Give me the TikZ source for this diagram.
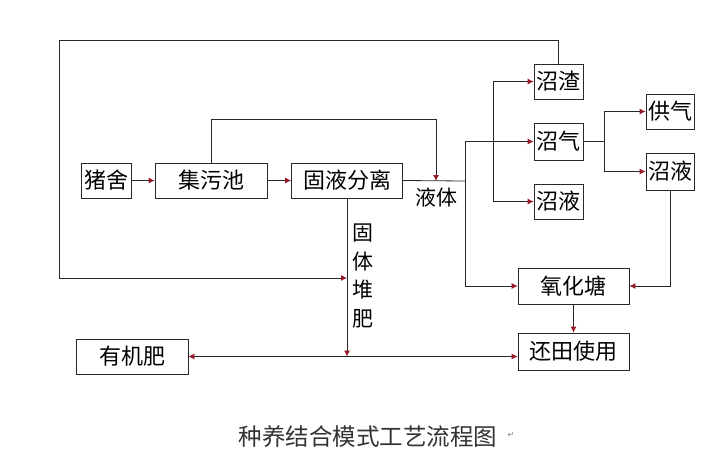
\documentclass[tikz,border=0pt]{standalone}
\usepackage{fontspec}
\newfontfamily\cjk{Noto Sans CJK SC}
\newfontfamily\symb{DejaVu Sans}
\usetikzlibrary{arrows.meta}
\definecolor{tipred}{RGB}{150,24,40}
\definecolor{linegray}{RGB}{40,40,40}
\begin{document}
\begin{tikzpicture}[x=1pt,y=-1pt,>={Latex[length=6pt,width=6pt,color=tipred]},
  box/.style={draw=linegray,line width=0.8pt,inner sep=0pt,minimum height=35pt,font=\cjk\fontsize{22}{22}\selectfont},
  wire/.style={draw=linegray,line width=0.8pt},
  lbl/.style={inner sep=0pt,font=\cjk\fontsize{21}{28.5}\selectfont}]
\useasboundingbox (0,0) rectangle (720,466);
% boxes
\node[box,minimum width=50pt] (zs) at (106,180.5) {猪舍};
\node[box,minimum width=112pt] (jwc) at (211,180.5) {集污池};
\node[box,minimum width=111pt] (gy) at (347,180.5) {固液分离};
\node[box,minimum width=49pt] (zz) at (558.5,81.5) {沼渣};
\node[box,minimum width=49pt,minimum height=37pt] (zq) at (558.5,141.5) {沼气};
\node[box,minimum width=49pt] (zy1) at (558.5,201.5) {沼液};
\node[box,minimum width=48pt] (gq) at (670,111.5) {供气};
\node[box,minimum width=48pt,minimum height=37pt] (zy2) at (670,171.5) {沼液};
\node[box,minimum width=111pt,minimum height=36pt] (yht) at (573.5,286) {氧化塘};
\node[box,minimum width=111pt,minimum height=37pt] (htsy) at (573.5,351.5) {还田使用};
\node[box,minimum width=112pt] (yjf) at (132,356.5) {有机肥};
% texts
\node[lbl] (yt) at (436,197) {液体};
\node[lbl,align=center] (gtdf) at (363,276) {固\\体\\堆\\肥};
\node[inner sep=0pt,text=black!80,font=\cjk\fontsize{23.5}{23.5}\selectfont] (title) at (368,437) {种养结合模式工艺流程图};
\node[inner sep=0pt,text=black!50,font=\symb\fontsize{8}{8}\selectfont] (mark) at (511,435) {↵};
% points on the lines
\coordinate (ytin) at (436,181);
\coordinate (fork) at (465,181);
\coordinate (split) at (493,141.5);
\coordinate (gfork) at (604,141.5);
\coordinate (topl) at (59,40);
\coordinate (ret) at (347,278);
\coordinate (mid) at (347,356.5);
% connectors
\draw[wire,->] (zs.east) -- (jwc.west);
\draw[wire,->] (jwc.east) -- (gy.west);
\draw[wire,->] (jwc.north) -- ++(0,-43) -| (ytin);
\draw[wire] (gy.east) -- (fork);
\draw[wire,->] (fork) |- (zq.west);
\draw[wire,->] (fork) |- (yht.west);
\draw[wire,->] (split) |- (zz.west);
\draw[wire,->] (split) |- (zy1.west);
\draw[wire] (zq.east) -- (gfork);
\draw[wire,->] (gfork) |- (gq.west);
\draw[wire,->] (gfork) |- (zy2.west);
\draw[wire,->] (zy2.south) |- (yht.east);
\draw[wire,->] (yht.south) -- (htsy.north);
\draw[wire,->] (zz.north) |- (topl) |- (ret);
\draw[wire,->] (gy.south) -- (mid);
\draw[wire,<->] (yjf.east) -- (yjf.east -| htsy.west);
\end{tikzpicture}
\end{document}
